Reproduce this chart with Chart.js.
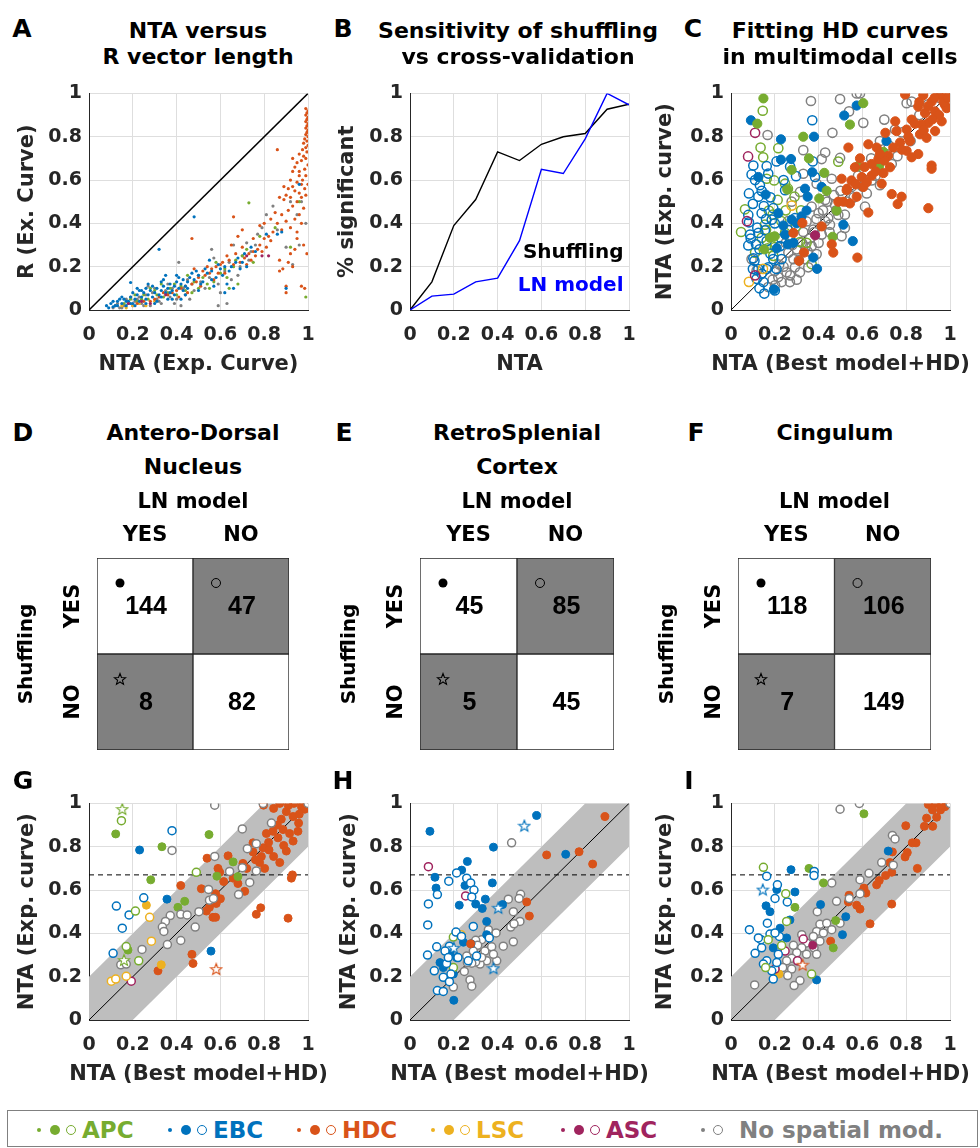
<!DOCTYPE html>
<html><head><meta charset="utf-8"><title>NTA figure</title>
<script src="https://cdn.jsdelivr.net/npm/chart.js@4.4.1/dist/chart.umd.min.js"></script>
<style>
html,body{margin:0;padding:0;background:#fff;}
body{width:980px;height:1148px;position:relative;overflow:hidden;font-family:"DejaVu Sans",sans-serif;}
canvas{position:absolute;}
.txt{position:absolute;transform:translate(-50%,-50%);white-space:nowrap;font-weight:bold;line-height:1;color:#000;}
.lab{font-size:25px;}
.ttl{font-size:22px;}
#legend{position:absolute;left:7px;top:1110px;width:971px;height:37px;border:1px solid #808080;box-sizing:border-box;}
.mk{position:absolute;border-radius:50%;transform:translate(-50%,-50%);box-sizing:border-box;}
.lt{position:absolute;transform:translateY(-50%);font-weight:bold;font-size:23px;line-height:1;white-space:nowrap;}
</style></head><body>
<canvas id="cA" width="340" height="310" style="left:0;top:75px"></canvas>
<canvas id="cB" width="340" height="310" style="left:325px;top:75px"></canvas>
<canvas id="cC" width="335" height="310" style="left:645px;top:75px"></canvas>
<canvas id="cD" width="330" height="290" style="left:0;top:480px"></canvas>
<canvas id="cE" width="330" height="290" style="left:330px;top:480px"></canvas>
<canvas id="cF" width="330" height="290" style="left:650px;top:480px"></canvas>
<canvas id="cG" width="340" height="310" style="left:0;top:785px"></canvas>
<canvas id="cH" width="340" height="310" style="left:325px;top:785px"></canvas>
<canvas id="cI" width="335" height="310" style="left:645px;top:785px"></canvas>

<div class="txt lab" style="left:22px;top:28px">A</div>
<div class="txt lab" style="left:343px;top:28px">B</div>
<div class="txt lab" style="left:693px;top:28px">C</div>
<div class="txt lab" style="left:23px;top:432px">D</div>
<div class="txt lab" style="left:344px;top:432px">E</div>
<div class="txt lab" style="left:696px;top:432px">F</div>
<div class="txt lab" style="left:23px;top:780px">G</div>
<div class="txt lab" style="left:343px;top:780px">H</div>
<div class="txt lab" style="left:689px;top:780px">I</div>
<div class="txt ttl" style="left:198px;top:31px">NTA versus</div>
<div class="txt ttl" style="left:198px;top:57px">R vector length</div>
<div class="txt ttl" style="left:518px;top:31px">Sensitivity of shuffling</div>
<div class="txt ttl" style="left:518px;top:57px">vs cross-validation</div>
<div class="txt ttl" style="left:840px;top:31px">Fitting HD curves</div>
<div class="txt ttl" style="left:840px;top:57px">in multimodal cells</div>
<div class="txt ttl" style="left:193px;top:433px">Antero-Dorsal</div>
<div class="txt ttl" style="left:193px;top:467px">Nucleus</div>
<div class="txt ttl" style="left:517px;top:433px">RetroSplenial</div>
<div class="txt ttl" style="left:517px;top:467px">Cortex</div>
<div class="txt ttl" style="left:835px;top:433px">Cingulum</div>
<div id="legend"></div>

<script>
// ---------------- DATA ----------------
const catNames  = ['APC','EBC','HDC','LSC','ASC','No spatial mod.'];
const catColors = ['#77AC30','#0072BD','#D95319','#EDB120','#A0245E','#808080'];

// Panel B
const ntaBins    = [0,0.1,0.2,0.3,0.4,0.5,0.6,0.7,0.8,0.9,1.0];
const pShuffling = [0,0.13,0.39,0.51,0.73,0.69,0.765,0.80,0.815,0.927,0.95];
const pLNmodel   = [0,0.064,0.073,0.13,0.147,0.32,0.65,0.63,0.79,1.0,0.947];
const bSeriesNames = ['Shuffling','LN model'];

// Panels D-F (rows: Shuffling YES/NO ; cols: LN model YES/NO)
const lnLabels   = ['YES','NO'];
const shufLabels = ['YES','NO'];
const countsD = [[144,47],[8,82]];
const countsE = [[45,85],[5,45]];
const countsF = [[118,106],[7,149]];

// Reference band / threshold for G-I
const bandHalfWidth = 0.2;
const ntaThreshold  = 0.67;

// Panel A (NTA exp curve, R vector length)
const A_hdc = [[0.99,0.93],[1.0,0.92],[0.995,0.91],[0.99,0.9],[1.0,0.89],[0.995,0.88],[0.99,0.87],[1.0,0.86],[0.995,0.85],[0.99,0.84],[1.0,0.83],[0.995,0.82],[0.99,0.81],[1.0,0.8],[0.985,0.79],[0.995,0.78],[0.98,0.77],[1.0,0.76],[0.99,0.75],[0.975,0.74],[0.995,0.73],[0.98,0.71],[0.99,0.7],[0.97,0.69],[1.0,0.67],[0.985,0.65],[0.96,0.64],[0.99,0.62],[0.975,0.6],[1.0,0.58],[0.985,0.56],[0.99,0.53],
[0.96,0.72],[0.95,0.68],[0.94,0.66],[0.93,0.64],[0.96,0.62],[0.92,0.6],[0.95,0.59],[0.97,0.58],[0.93,0.57],[0.91,0.56],[0.94,0.55],[0.96,0.54],[0.9,0.53],[0.92,0.52],[0.97,0.52],[0.89,0.51],[0.95,0.5],[0.93,0.48],[0.98,0.47],[0.91,0.46],[0.96,0.44],[0.88,0.44],[0.94,0.42],[0.9,0.41],[0.97,0.4],[0.86,0.4],[0.92,0.38],[0.88,0.37],[0.95,0.36],[0.86,0.74],[0.89,0.57],[0.93,0.7],[0.87,0.52],[0.85,0.45],
[0.84,0.36],[0.82,0.34],[0.8,0.33],[0.83,0.32],[0.78,0.3],[0.81,0.29],[0.77,0.28],[0.75,0.27],[0.79,0.27],[0.73,0.26],[0.76,0.25],[0.71,0.24],[0.74,0.23],[0.69,0.22],[0.72,0.21],[0.66,0.43],[0.7,0.37],[0.68,0.34],[0.65,0.3],[0.67,0.26],[0.63,0.25],[0.64,0.23],[0.61,0.22],[0.6,0.21],[0.58,0.2],[0.56,0.19],[0.55,0.17],[0.53,0.16],[0.52,0.18],[0.5,0.15],[0.49,0.13],[0.47,0.12],[0.47,0.33],[0.44,0.11],[0.42,0.1],[0.4,0.09],[0.38,0.08],[0.36,0.07],[0.34,0.08],[0.32,0.06],[0.3,0.05],[0.28,0.04],[0.25,0.04],[0.22,0.03],[0.48,0.19],[0.54,0.2],[0.57,0.14],[0.62,0.17],
[0.87,0.18],[0.91,0.22],[0.93,0.2],[0.92,0.26],[0.9,0.11],[0.9,0.08],[0.97,0.11],[0.985,0.1],[0.98,0.3],[0.995,0.26],[0.95,0.33],[0.94,0.28],[0.87,0.23],[0.885,0.19],
[0.41,0.06],[0.45,0.08],[0.51,0.11],[0.59,0.17],[0.66,0.21],[0.7,0.29],[0.75,0.33],[0.8,0.4],[0.83,0.42],[0.78,0.39]];
const A_ebc = [[0.08,0.02],[0.1,0.03],[0.11,0.015],[0.12,0.02],[0.13,0.04],[0.14,0.05],[0.15,0.03],[0.16,0.05],[0.17,0.02],[0.18,0.04],[0.19,0.06],[0.19,0.127],[0.2,0.03],[0.2,0.08],[0.21,0.05],[0.22,0.07],[0.23,0.04],[0.24,0.06],[0.25,0.08],[0.26,0.05],[0.27,0.07],[0.28,0.09],[0.29,0.06],[0.3,0.08],[0.31,0.1],[0.32,0.07],[0.32,0.28],[0.33,0.09],[0.34,0.11],[0.35,0.08],[0.35,0.16],[0.36,0.1],[0.37,0.12],[0.38,0.09],[0.39,0.11],[0.4,0.13],[0.41,0.1],[0.42,0.12],[0.42,0.05],[0.43,0.14],[0.44,0.11],[0.45,0.13],[0.46,0.15],[0.48,0.14],[0.48,0.43],[0.5,0.16],[0.52,0.13],[0.54,0.17],[0.55,0.23],[0.56,0.18],[0.58,0.15],[0.6,0.19],[0.62,0.2],[0.62,0.08],[0.64,0.18],[0.65,0.2],[0.66,0.1],[0.68,0.24],[0.7,0.22],[0.72,0.2],[0.74,0.29],[0.76,0.27],[0.81,0.35],[0.86,0.35],[0.88,0.36],[0.9,0.1],[0.96,0.58],[0.3,0.03],[0.26,0.1],[0.38,0.05],[0.44,0.07],[0.5,0.09],[0.57,0.11],[0.33,0.13],[0.23,0.09],
[0.09,0.01],[0.11,0.04],[0.13,0.02],[0.15,0.06],[0.17,0.04],[0.19,0.03],[0.21,0.02],[0.22,0.1],[0.24,0.09],[0.26,0.03],[0.27,0.12],[0.29,0.11],[0.31,0.04],[0.33,0.06],[0.34,0.14],[0.36,0.05],[0.37,0.08],[0.39,0.07],[0.4,0.16],[0.41,0.15],[0.43,0.09],[0.45,0.1],[0.47,0.17],[0.49,0.18],[0.51,0.12],[0.53,0.19],[0.56,0.14],[0.59,0.21],[0.61,0.16],[0.63,0.12],[0.67,0.22],[0.69,0.19],[0.71,0.26]];
const A_apc = [[0.19,0.05],[0.22,0.04],[0.25,0.07],[0.27,0.05],[0.28,0.1],[0.3,0.09],[0.33,0.12],[0.34,0.06],[0.37,0.1],[0.4,0.07],[0.44,0.09],[0.45,0.16],[0.47,0.08],[0.5,0.1],[0.54,0.12],[0.57,0.13],[0.58,0.22],[0.6,0.17],[0.63,0.15],[0.64,0.1],[0.66,0.2],[0.68,0.12],[0.7,0.25],[0.73,0.495],[0.75,0.22],[0.85,0.38],[0.92,0.29],[0.96,0.5],[0.99,0.06],
[0.16,0.03],[0.21,0.07],[0.24,0.05],[0.31,0.07],[0.36,0.08],[0.39,0.12],[0.42,0.11],[0.48,0.13],[0.52,0.15],[0.55,0.1],[0.62,0.19],[0.67,0.23],[0.72,0.28],[0.78,0.34]];
const A_nos = [[0.11,0.01],[0.12,0.02],[0.14,0.01],[0.16,0.02],[0.18,0.03],[0.19,0.06],[0.2,0.02],[0.22,0.05],[0.24,0.03],[0.26,0.07],[0.27,0.11],[0.28,0.02],[0.29,0.08],[0.31,0.05],[0.33,0.03],[0.35,0.09],[0.37,0.06],[0.38,0.1],[0.4,0.05],[0.41,0.22],[0.42,0.02],[0.44,0.07],[0.45,0.14],[0.47,0.12],[0.5,0.16],[0.53,0.1],[0.56,0.28],[0.57,0.24],[0.59,0.12],[0.59,0.02],[0.62,0.18],[0.63,0.03],[0.64,0.22],[0.66,0.3],[0.68,0.16],[0.7,0.25],[0.72,0.31],[0.74,0.27],[0.77,0.35],[0.79,0.38],[0.81,0.44],[0.84,0.48],[0.86,0.37],[0.9,0.29],[0.92,0.5],[0.93,0.21],[0.95,0.44],[0.96,0.3],[0.97,0.5],[0.99,0.4],
[0.13,0.03],[0.15,0.01],[0.17,0.05],[0.21,0.04],[0.23,0.06],[0.25,0.02],[0.3,0.1],[0.32,0.04],[0.36,0.12],[0.39,0.03],[0.43,0.1],[0.46,0.05],[0.48,0.09],[0.51,0.13],[0.55,0.15],[0.6,0.08],[0.65,0.14],[0.69,0.2],[0.73,0.23],[0.76,0.3]];
const A_lsc = [[0.15,0.02],[0.17,0.01],[0.2,0.02],[0.23,0.03],[0.26,0.02],[0.3,0.04]];
const A_asc = [[0.18,0.03],[0.24,0.04],[0.28,0.03],[0.35,0.07],[0.72,0.25],[0.79,0.25],[0.82,0.25]];

// Panel C (NTA best model+HD, NTA exp curve); f = filled, o = open
const C_nos_o = [[0.365,0.965],[0.498,0.974],[0.574,1.0],[0.589,1.0],[0.539,0.917],[0.604,0.864],[0.167,0.808],[0.463,0.818],[0.7,0.879],[0.749,0.833],[0.33,0.738],[0.43,0.727],[0.498,0.702],[0.68,0.78],[0.414,0.697],[0.33,0.629],[0.46,0.606],[0.391,0.583],[0.315,0.545],[0.43,0.508],[0.475,0.485],[0.368,0.477],[0.4,0.447],[0.444,0.424],[0.345,0.409],[0.376,0.371],[0.414,0.348],[0.323,0.311],[0.368,0.295],[0.391,0.258],[0.338,0.235],[0.292,0.197],[0.254,0.174],[0.231,0.129],[0.269,0.129],[0.201,0.114],[0.17,0.106],[0.117,0.182],[0.094,0.235],[0.315,0.174],[0.353,0.197],[0.68,0.576],[0.802,0.955],[0.825,0.962],[0.52,0.379],[0.505,0.341],[0.452,0.394],[0.49,0.439],[0.55,0.568],[0.612,0.477],[0.62,0.538],[0.734,0.674],[0.642,0.598],[0.277,0.5],[0.262,0.265],[0.285,0.235],[0.216,0.152],[0.3,0.28],[0.36,0.33],[0.42,0.46],[0.47,0.53],[0.39,0.42],[0.33,0.36],[0.28,0.3],[0.24,0.2],[0.44,0.5],[0.5,0.55],[0.53,0.5],[0.58,0.62],[0.64,0.7],[0.72,0.76],[0.78,0.82],[0.86,0.9],[0.9,0.95],[0.95,0.98],[0.26,0.41],[0.35,0.27],[0.31,0.23],[0.19,0.14],[0.4,0.31],[0.45,0.36],
[0.22,0.21],[0.27,0.16],[0.3,0.14],[0.34,0.29],[0.38,0.36],[0.43,0.41],[0.48,0.46],[0.52,0.44],[0.56,0.52],[0.6,0.57],[0.66,0.62],[0.69,0.66],[0.76,0.71],[0.82,0.78],[0.25,0.31],[0.2,0.18]];
const C_apc_f = [[0.148,0.977],[0.12,0.86],[0.604,0.955],[0.543,0.856],[0.33,0.8],[0.356,0.7],[0.277,0.647],[0.426,0.633],[0.437,0.55],[0.403,0.515],[0.482,0.459],[0.464,0.338],[0.696,0.73],[0.58,0.664],[0.676,0.664],[0.178,0.333],[0.193,0.338],[0.2,0.34],[0.152,0.28],[0.257,0.556]];
const C_apc_o = [[0.145,0.92],[0.135,0.75],[0.216,0.747],[0.147,0.705],[0.49,0.685],[0.163,0.606],[0.197,0.598],[0.247,0.583],[0.29,0.523],[0.064,0.465],[0.046,0.36],[0.173,0.459],[0.213,0.508],[0.25,0.46],[0.297,0.386],[0.155,0.394],[0.14,0.333],[0.167,0.285],[0.193,0.25],[0.315,0.314],[0.345,0.31],[0.368,0.212],[0.247,0.356],[0.11,0.265],
[0.19,0.44],[0.23,0.41],[0.27,0.34],[0.16,0.37],[0.2,0.29],[0.26,0.56],[0.32,0.46]];
const C_ebc_f = [[0.091,0.876],[0.228,0.788],[0.379,0.8],[0.517,0.898],[0.574,0.944],[0.71,0.78],[0.274,0.697],[0.228,0.694],[0.371,0.636],[0.158,0.533],[0.338,0.56],[0.35,0.523],[0.513,0.394],[0.556,0.318],[0.393,0.19],[0.196,0.095],[0.376,0.242],[0.345,0.459],[0.277,0.417],[0.247,0.348],[0.216,0.447],[0.26,0.303],[0.3,0.4],[0.322,0.432],[0.239,0.39],[0.209,0.285],[0.125,0.614],[0.414,0.568],[0.285,0.31]];
const C_ebc_o = [[0.371,0.876],[0.102,0.667],[0.094,0.626],[0.163,0.664],[0.208,0.686],[0.27,0.662],[0.082,0.538],[0.132,0.576],[0.125,0.523],[0.079,0.439],[0.082,0.405],[0.14,0.447],[0.193,0.47],[0.155,0.368],[0.114,0.303],[0.079,0.298],[0.125,0.356],[0.163,0.318],[0.102,0.239],[0.125,0.189],[0.163,0.189],[0.208,0.189],[0.107,0.227],[0.148,0.129],[0.152,0.076],[0.14,0.167],[0.193,0.235],[0.231,0.235],[0.297,0.618],[0.373,0.686],[0.384,0.614],[0.247,0.553],[0.292,0.424],[0.224,0.295],[0.17,0.197],[0.117,0.144],[0.087,0.348],[0.186,0.417],
[0.11,0.6],[0.14,0.55],[0.18,0.52],[0.1,0.49],[0.16,0.42],[0.2,0.4],[0.13,0.28],[0.18,0.26],[0.1,0.19],[0.13,0.1],[0.2,0.09],[0.12,0.38],[0.23,0.33],[0.26,0.37],[0.17,0.63],[0.24,0.6],[0.15,0.48],[0.09,0.33]];
const C_hdc_f = [[0.795,0.995],[0.878,0.992],[0.947,1.0],[0.985,0.992],[0.916,0.962],[0.855,0.939],[0.886,0.909],[0.932,0.917],[0.977,0.947],[0.825,0.879],[0.901,0.864],[0.802,0.833],[0.756,0.826],[0.863,0.811],[0.932,0.826],[0.893,0.795],[0.817,0.78],[0.772,0.773],[0.741,0.75],[0.802,0.735],[0.855,0.72],[0.718,0.712],[0.673,0.697],[0.627,0.765],[0.536,0.75],[0.589,0.7],[0.642,0.674],[0.696,0.632],[0.726,0.659],[0.916,0.667],[0.916,0.652],[0.597,0.614],[0.55,0.598],[0.505,0.606],[0.604,0.568],[0.528,0.553],[0.49,0.5],[0.574,0.523],[0.543,0.492],[0.627,0.45],[0.734,0.535],[0.779,0.523],[0.761,0.489],[0.901,0.47],[0.326,0.402],[0.285,0.356],[0.311,0.227],[0.333,0.265],[0.414,0.386],[0.46,0.303],[0.467,0.265],[0.577,0.242],[0.513,0.5],[0.566,0.659],[0.665,0.75],[0.705,0.818],[0.75,0.871],[0.962,0.871],[0.985,0.932],[0.87,0.856],[0.642,0.62],[0.825,0.705],[0.688,0.583],[0.96,0.99],[0.93,0.98],[0.9,0.94],[0.97,0.96],[0.84,0.86],[0.88,0.83],[0.95,0.9],[0.99,0.98],[0.92,0.88],[0.86,0.96],[0.81,0.8],[0.78,0.74],[0.7,0.69],[0.66,0.64],[0.61,0.66],[0.57,0.58],[0.53,0.56],[0.62,0.59],[0.68,0.72]];
const C_lsc_o = [[0.082,0.13],[0.277,0.482],[0.146,0.19]];
const C_asc_f = [[0.384,0.345]];
const C_asc_o = [[0.11,0.818],[0.078,0.709],[0.073,0.41],[0.11,0.16]];

// Panel G (Antero-Dorsal); s = star
const G_nos_o = [[0.574,0.992],[0.379,0.783],[0.7,0.882],[0.795,1.0],[1.0,1.0],[0.833,0.909],[0.574,0.755],[0.764,0.814],[0.723,0.791],[0.642,0.686],[0.7,0.703],[0.764,0.688],[0.734,0.635],[0.683,0.579],[0.546,0.603],[0.55,0.553],[0.568,0.561],[0.502,0.5],[0.485,0.429],[0.419,0.488],[0.448,0.485],[0.371,0.482],[0.349,0.455],[0.335,0.429],[0.342,0.409],[0.358,0.348],[0.419,0.367],[0.242,0.326],[0.145,0.255],[0.17,0.258]];
const G_apc_f = [[0.122,0.859],[0.333,0.8],[0.548,0.856],[0.282,0.647],[0.658,0.73],[0.584,0.664],[0.68,0.662],[0.437,0.548],[0.406,0.52],[0.178,0.323]];
const G_apc_o = [[0.148,0.92],[0.49,0.682],[0.212,0.503],[0.17,0.339],[0.227,0.273]];
const G_apc_s = [[0.152,0.974],[0.16,0.277]];
const G_ebc_f = [[0.231,0.785],[0.356,0.558],[0.557,0.318]];
const G_ebc_o = [[0.379,0.874],[0.125,0.526],[0.25,0.564],[0.183,0.485],[0.152,0.424],[0.11,0.308]];
const G_lsc_f = [[0.262,0.53],[0.33,0.255]];
const G_lsc_o = [[0.277,0.474],[0.285,0.364],[0.102,0.179],[0.122,0.189],[0.17,0.202]];
const G_asc_o = [[0.193,0.179]];
const G_hdc_f = [[0.797,0.992],[0.871,1.0],[0.935,1.0],[0.97,0.985],[0.901,0.962],[0.843,0.977],[0.932,0.939],[0.985,0.973],[0.878,0.927],[0.957,0.909],[0.84,0.871],[0.886,0.879],[0.916,0.861],[0.954,0.871],[0.81,0.861],[0.863,0.841],[0.932,0.826],[0.749,0.818],[0.889,0.806],[0.795,0.795],[0.749,0.776],[0.822,0.785],[0.787,0.755],[0.843,0.755],[0.901,0.78],[0.779,0.727],[0.871,0.727],[0.802,0.7],[0.703,0.723],[0.635,0.758],[0.539,0.747],[0.589,0.7],[0.597,0.682],[0.658,0.655],[0.711,0.594],[0.615,0.639],[0.578,0.583],[0.513,0.606],[0.581,0.538],[0.536,0.503],[0.566,0.474],[0.578,0.474],[0.419,0.621],[0.924,0.655],[0.929,0.67],[0.784,0.518],[0.764,0.488],[0.909,0.47],[0.47,0.303],[0.475,0.261],[0.315,0.227],[0.96,0.95],[0.91,0.99],[0.86,0.9],[0.82,0.82],[0.76,0.74],[0.72,0.7],[0.68,0.63],[0.6,0.56],[0.55,0.52]];
const G_hdc_s = [[0.581,0.235]];

// Panel H (RetroSplenial)
const H_nos_o = [[0.464,0.818],[0.505,0.58],[0.498,0.561],[0.449,0.558],[0.472,0.5],[0.502,0.455],[0.46,0.429],[0.475,0.444],[0.472,0.361],[0.393,0.402],[0.358,0.417],[0.327,0.371],[0.3,0.368],[0.309,0.345],[0.342,0.318],[0.373,0.338],[0.396,0.273],[0.381,0.303],[0.35,0.273],[0.32,0.258],[0.3,0.268],[0.282,0.262],[0.262,0.265],[0.248,0.224],[0.274,0.185],[0.282,0.156],[0.198,0.152],[0.259,0.295],[0.289,0.318],[0.426,0.341],[0.327,0.288]];
const H_ebc_f = [[0.091,0.871],[0.578,0.944],[0.381,0.798],[0.711,0.765],[0.114,0.659],[0.119,0.609],[0.262,0.732],[0.236,0.692],[0.376,0.633],[0.251,0.621],[0.225,0.53],[0.3,0.535],[0.344,0.558],[0.33,0.515],[0.423,0.533],[0.35,0.455],[0.35,0.394],[0.244,0.359],[0.279,0.352],[0.152,0.242],[0.198,0.212],[0.2,0.091],[0.183,0.311],[0.137,0.265],[0.213,0.288]];
const H_ebc_o = [[0.084,0.536],[0.081,0.439],[0.08,0.3],[0.125,0.579],[0.177,0.641],[0.213,0.679],[0.259,0.655],[0.277,0.633],[0.292,0.6],[0.282,0.568],[0.289,0.432],[0.21,0.406],[0.235,0.386],[0.18,0.341],[0.122,0.338],[0.16,0.318],[0.167,0.261],[0.187,0.212],[0.111,0.227],[0.152,0.197],[0.18,0.177],[0.125,0.136],[0.152,0.132],[0.304,0.295],[0.362,0.379],[0.219,0.288],[0.175,0.288],[0.266,0.273]];
const H_ebc_s = [[0.522,0.897],[0.403,0.518],[0.381,0.239],[0.2,0.333]];
const H_asc_o = [[0.084,0.708],[0.254,0.573]];
const H_apc_o = [[0.198,0.383],[0.198,0.242]];
const H_lsc_o = [[0.233,0.394]];
const H_hdc_f = [[0.89,0.939],[0.624,0.762],[0.772,0.777],[0.834,0.72],[0.533,0.545],[0.545,0.48],[0.277,0.352]];

// Panel I (Cingulum)
const I_nos_o = [[0.498,0.973],[0.586,1.0],[1.0,1.0],[0.737,0.852],[0.749,0.836],[0.688,0.727],[0.741,0.715],[0.63,0.677],[0.589,0.648],[0.589,0.583],[0.46,0.633],[0.54,0.561],[0.482,0.548],[0.498,0.447],[0.394,0.5],[0.406,0.442],[0.437,0.447],[0.46,0.417],[0.391,0.409],[0.422,0.402],[0.376,0.386],[0.406,0.364],[0.379,0.333],[0.345,0.356],[0.323,0.394],[0.323,0.333],[0.3,0.311],[0.285,0.345],[0.277,0.285],[0.303,0.273],[0.254,0.273],[0.277,0.235],[0.259,0.205],[0.315,0.182],[0.288,0.159],[0.108,0.162],[0.236,0.242],[0.345,0.303],[0.391,0.303]];
const I_hdc_f = [[0.901,0.995],[0.936,1.0],[0.977,0.985],[0.957,0.97],[0.893,0.932],[0.939,0.936],[0.921,0.894],[0.883,0.894],[0.798,0.897],[0.845,0.818],[0.828,0.818],[0.805,0.773],[0.795,0.753],[0.737,0.776],[0.726,0.727],[0.734,0.682],[0.706,0.667],[0.677,0.644],[0.665,0.624],[0.607,0.609],[0.597,0.591],[0.616,0.586],[0.539,0.576],[0.536,0.545],[0.574,0.53],[0.589,0.512],[0.851,0.7],[0.734,0.535],[0.635,0.444],[0.455,0.364],[0.96,0.99],[0.92,0.97]];
const I_hdc_s = [[0.327,0.255]];
const I_apc_f = [[0.607,0.952],[0.356,0.7],[0.422,0.633],[0.292,0.52],[0.478,0.459],[0.467,0.333]];
const I_apc_o = [[0.148,0.705],[0.25,0.583],[0.254,0.455],[0.231,0.344],[0.158,0.242],[0.368,0.212],[0.17,0.371]];
const I_ebc_f = [[0.274,0.694],[0.209,0.602],[0.16,0.527],[0.292,0.591],[0.409,0.533],[0.718,0.78],[0.524,0.477],[0.509,0.394],[0.391,0.185],[0.269,0.462],[0.224,0.424],[0.254,0.379],[0.193,0.333],[0.178,0.5]];
const I_ebc_o = [[0.163,0.664],[0.38,0.686],[0.379,0.667],[0.212,0.624],[0.201,0.561],[0.257,0.545],[0.084,0.417],[0.166,0.447],[0.137,0.371],[0.11,0.308],[0.14,0.333],[0.178,0.397],[0.221,0.386],[0.163,0.273],[0.209,0.265],[0.216,0.303],[0.186,0.227],[0.193,0.189],[0.148,0.258],[0.125,0.379],[0.201,0.402]];
const I_ebc_s = [[0.145,0.602]];
const I_asc_o = [[0.201,0.235],[0.304,0.273],[0.33,0.374],[0.247,0.318]];
const I_asc_f = [[0.373,0.345]];
const I_lsc_f = [[0.219,0.212]];

// ---------------- RENDERING ----------------
Chart.defaults.font.family = '"DejaVu Sans", sans-serif';
Chart.defaults.font.weight = 'bold';
const TXT = '#262626', GRID = '#DEDEDE', AX = '#262626';
const fmt = v => String(Number(Number(v).toFixed(1)));
const P = a => a.map(([x,y]) => ({x, y}));
const [APC, EBC, HDC, LSC, ASC, NOS] = [0,1,2,3,4,5];

function starImg(color, size, fillWhite){
  const c = document.createElement('canvas'); c.width = c.height = size;
  const g = c.getContext('2d'); const R = size/2 - 1, r = R*0.42;
  g.beginPath();
  for (let i = 0; i < 10; i++){ const a = -Math.PI/2 + i*Math.PI/5; const rr = i%2 ? r : R;
    g.lineTo(size/2 + rr*Math.cos(a), size/2 + 0.5 + rr*Math.sin(a)); }
  g.closePath();
  if (fillWhite){ g.fillStyle = '#fff'; g.fill(); }
  g.strokeStyle = color; g.lineWidth = 1.1; g.stroke();
  return c;
}

function ds(data, cat, kind, r, order, hollow){
  const col = catColors[cat];
  const d = {data: P(data), order, pointRadius: r, pointHoverRadius: r, showLine: false};
  if (kind === 'f'){ d.pointBackgroundColor = col; d.pointBorderColor = col; d.pointBorderWidth = 1; }
  else if (kind === 'o'){ d.pointBackgroundColor = hollow ? 'rgba(0,0,0,0)' : '#fff'; d.pointBorderColor = col; d.pointBorderWidth = 1.5; }
  else if (kind === 'd'){ d.pointBackgroundColor = col; d.pointBorderColor = col; d.pointBorderWidth = 0; }
  else if (kind === 's'){ d.pointStyle = starImg(col, 14, true); d.pointRadius = 5; }
  return d;
}
function lineDs(data, color, w, order, dash){
  return {data: P(data), showLine: true, borderColor: color, borderWidth: w, pointRadius: 0, order, borderDash: dash || [], fill: false, tension: 0};
}

// x-axis title drawn centred under the x scale (without width compression)
const xTitlePlugin = {
  id: 'xTitle',
  afterDraw(chart, args, opts){
    const s = chart.scales.x, ctx = chart.ctx;
    ctx.save();
    ctx.font = 'bold 21px "DejaVu Sans", sans-serif';
    ctx.fillStyle = TXT; ctx.textAlign = 'center'; ctx.textBaseline = 'middle';
    ctx.fillText(opts.text, (s.left + s.right)/2, s.bottom - 7.4 - 12.6);
    ctx.restore();
  }
};

function scalesFor(yTitle, yW, yTP){
  const tickFont = {size: 19, weight: 'bold'};
  const titleFont = {size: 21, weight: 'bold'};
  const common = {type: 'linear', min: 0, max: 1,
    grid: {color: GRID, lineWidth: 1, drawTicks: false},
    border: {display: true, color: AX, width: 1}};
  return {
    x: Object.assign({}, common, {
      afterFit: s => { s.height = 75; },
      ticks: {stepSize: 0.2, padding: 13.6, color: TXT, font: tickFont, callback: fmt, maxRotation: 0, minRotation: 0, autoSkip: false}
    }),
    y: Object.assign({}, common, {
      afterFit: s => { s.width = yW; },
      ticks: {stepSize: 0.2, padding: 7, color: TXT, font: tickFont, callback: fmt, autoSkip: false},
      title: {display: true, text: yTitle, color: TXT, font: titleFont, padding: {top: yTP, bottom: 0}}
    })
  };
}

function scatterPanel(id, datasets, o){
  return new Chart(document.getElementById(id), {
    type: 'scatter',
    data: {datasets},
    options: {
      responsive: false, animation: false, events: [],
      layout: {padding: {left: 0, top: 15, right: o.padR, bottom: 0}},
      plugins: {legend: {display: false}, tooltip: {enabled: false}, xTitle: {text: o.xTitle}},
      scales: scalesFor(o.yTitle, o.yW, o.yTP)
    },
    plugins: [xTitlePlugin].concat(o.plugins || [])
  });
}

const diag = [[0,0],[1,1]];
const w = bandHalfWidth;
const bandPoly = [[0,0],[0,w],[1-w,1],[1,1],[1,1-w],[w,0],[0,0]];
const thrLine = [[0,ntaThreshold],[1,ntaThreshold]];
const bandDs = () => ({data: P(bandPoly), showLine: true, borderWidth: 0, borderColor: 'rgba(0,0,0,0)', pointRadius: 0, fill: 'shape', backgroundColor: '#BEBEBE', order: 100, tension: 0});

// geometry: left-column canvas x0=0 (plot 89-308), middle x0=325 (plot 410-629), right x0=645 (plot 731-950)
const colGeom = [
  {yW: 89, yTP: 15.4, padR: 32},
  {yW: 85, yTP: 12.4, padR: 36},
  {yW: 86, yTP: 8.4,  padR: 30}
];

// ---- Panel A
scatterPanel('cA', [
  lineDs(diag, '#000', 1.5, 99),
  ds(A_nos, NOS, 'd', 1.6, 60),
  ds(A_apc, APC, 'd', 1.6, 55),
  ds(A_lsc, LSC, 'd', 1.6, 54),
  ds(A_hdc, HDC, 'd', 1.6, 52),
  ds(A_ebc, EBC, 'd', 1.6, 50),
  ds(A_asc, ASC, 'd', 1.6, 48)
], Object.assign({xTitle: 'NTA (Exp. Curve)', yTitle: 'R (Ex. Curve)'}, colGeom[0]));

// ---- Panel B
const bLegend = {
  id: 'bLegend',
  afterDatasetsDraw(chart){
    const {ctx, scales: {x, y}} = chart;
    ctx.save();
    ctx.font = 'bold 20px "DejaVu Sans", sans-serif';
    ctx.textAlign = 'right'; ctx.textBaseline = 'middle';
    const pos = [0.265, 0.114];
    chart.data.datasets.forEach((d, i) => {
      ctx.fillStyle = d.borderColor;
      ctx.fillText(d.label, x.getPixelForValue(0.975), y.getPixelForValue(pos[i]));
    });
    ctx.restore();
  }
};
scatterPanel('cB', [
  Object.assign(lineDs(ntaBins.map((v,i) => [v, pShuffling[i]]), '#000000', 1.4, 2), {label: bSeriesNames[0]}),
  Object.assign(lineDs(ntaBins.map((v,i) => [v, pLNmodel[i]]), '#0000FF', 1.4, 1), {label: bSeriesNames[1]})
], Object.assign({xTitle: 'NTA', yTitle: '% significant', plugins: [bLegend]}, colGeom[1], {yTP: 10.4}));

// ---- Panel C
scatterPanel('cC', [
  lineDs(diag, '#000', 1, 99),
  ds(C_nos_o, NOS, 'o', 4.6, 60, true),
  ds(C_apc_o, APC, 'o', 4.6, 58, true),
  ds(C_ebc_o, EBC, 'o', 4.6, 57, true),
  ds(C_lsc_o, LSC, 'o', 4.6, 56, true),
  ds(C_asc_o, ASC, 'o', 4.6, 55, true),
  ds(C_ebc_f, EBC, 'f', 4.6, 54),
  ds(C_apc_f, APC, 'f', 4.6, 53),
  ds(C_hdc_f, HDC, 'f', 4.6, 52),
  ds(C_asc_f, ASC, 'f', 4.6, 51)
], Object.assign({xTitle: 'NTA (Best model+HD)', yTitle: 'NTA (Exp. curve)'}, colGeom[2]));

// ---- Panels G, H, I
function bandSets(){ return [bandDs(), lineDs(diag, '#000', 1, 95), lineDs(thrLine, '#000', 1, 94, [5,4])]; }
const R = 4;
scatterPanel('cG', bandSets().concat([
  ds(G_hdc_f, HDC, 'f', R, 60),
  ds(G_apc_f, APC, 'f', R, 55),
  ds(G_ebc_f, EBC, 'f', R, 55),
  ds(G_lsc_f, LSC, 'f', R, 55),
  ds(G_apc_o, APC, 'o', R, 50),
  ds(G_ebc_o, EBC, 'o', R, 50),
  ds(G_lsc_o, LSC, 'o', R, 50),
  ds(G_asc_o, ASC, 'o', R, 50),
  ds(G_nos_o, NOS, 'o', R, 45),
  ds(G_apc_s, APC, 's', R, 40),
  ds(G_hdc_s, HDC, 's', R, 40)
]), Object.assign({xTitle: 'NTA (Best model+HD)', yTitle: 'NTA (Exp. curve)'}, colGeom[0]));

scatterPanel('cH', bandSets().concat([
  ds(H_nos_o, NOS, 'o', R, 60),
  ds(H_hdc_f, HDC, 'f', R, 55),
  ds(H_ebc_f, EBC, 'f', R, 55),
  ds(H_ebc_o, EBC, 'o', R, 50),
  ds(H_apc_o, APC, 'o', R, 50),
  ds(H_lsc_o, LSC, 'o', R, 50),
  ds(H_asc_o, ASC, 'o', R, 50),
  ds(H_ebc_s, EBC, 's', R, 40)
]), Object.assign({xTitle: 'NTA (Best model+HD)', yTitle: 'NTA (Exp. curve)'}, colGeom[1]));

scatterPanel('cI', bandSets().concat([
  ds(I_hdc_f, HDC, 'f', R, 60),
  ds(I_nos_o, NOS, 'o', R, 58),
  ds(I_apc_f, APC, 'f', R, 55),
  ds(I_ebc_f, EBC, 'f', R, 55),
  ds(I_lsc_f, LSC, 'f', R, 55),
  ds(I_asc_f, ASC, 'f', R, 55),
  ds(I_apc_o, APC, 'o', R, 50),
  ds(I_ebc_o, EBC, 'o', R, 50),
  ds(I_asc_o, ASC, 'o', R, 50),
  ds(I_ebc_s, EBC, 's', R, 40),
  ds(I_hdc_s, HDC, 's', R, 40)
]), Object.assign({xTitle: 'NTA (Best model+HD)', yTitle: 'NTA (Exp. curve)'}, colGeom[2]));

// ---- Panels D, E, F (2x2 tables)
const cellSymbols = [['dot','circle'],['star',null]];
const tableStar = starImg('#000', 14, false);
const tablePlugin = {
  id: 'tbl',
  afterDatasetsDraw(chart){
    const {ctx, chartArea: ca} = chart;
    ctx.save();
    chart.data.datasets.forEach((d, r) => {
      chart.getDatasetMeta(r).data.forEach((bar, c) => {
        const p = bar.getProps(['x','y','base','width'], true);
        const top = Math.min(p.y, p.base), bot = Math.max(p.y, p.base);
        const left = p.x - p.width/2;
        ctx.fillStyle = '#000';
        ctx.font = 'bold 25px "Liberation Sans", Arial, sans-serif';
        ctx.textAlign = 'center'; ctx.textBaseline = 'middle';
        ctx.fillText(String(d.counts[c]), p.x + 1, (top + bot)/2 + 1);
        const sx = left + 23, sy = top + 25, sym = cellSymbols[r][c];
        if (sym === 'dot'){ ctx.beginPath(); ctx.arc(sx, sy, 4.5, 0, 2*Math.PI); ctx.fill(); }
        else if (sym === 'circle'){ ctx.beginPath(); ctx.arc(sx, sy, 4.5, 0, 2*Math.PI); ctx.strokeStyle = '#000'; ctx.lineWidth = 1; ctx.stroke(); }
        else if (sym === 'star'){ ctx.drawImage(tableStar, sx - 7, sy - 7); }
      });
      const m0 = chart.getDatasetMeta(r).data[0].getProps(['y','base'], true);
      ctx.save();
      ctx.translate(ca.left - 23, (m0.y + m0.base)/2);
      ctx.rotate(-Math.PI/2);
      ctx.font = 'bold 21px "DejaVu Sans", sans-serif';
      ctx.fillStyle = '#000'; ctx.textAlign = 'center'; ctx.textBaseline = 'middle';
      ctx.fillText(shufLabels[r], 0, 0);
      ctx.restore();
    });
    ctx.save();
    ctx.translate(ca.left - 70, (ca.top + ca.bottom)/2);
    ctx.rotate(-Math.PI/2);
    ctx.font = 'bold 20px "DejaVu Sans", sans-serif';
    ctx.fillStyle = '#000'; ctx.textAlign = 'center'; ctx.textBaseline = 'middle';
    ctx.fillText('Shuffling', 0, 0);
    ctx.restore();
    ctx.restore();
  }
};
function tablePanel(id, counts, padL, padR){
  return new Chart(document.getElementById(id), {
    type: 'bar',
    data: {
      labels: lnLabels,
      datasets: counts.map((row, r) => ({
        label: shufLabels[r], counts: row,
        data: row.map(() => [r, r + 1]),
        backgroundColor: row.map((_, c) => r === c ? '#FFFFFF' : '#808080'),
        borderColor: '#262626', borderWidth: 1, borderSkipped: false,
        grouped: false, categoryPercentage: 1, barPercentage: 1
      }))
    },
    options: {
      responsive: false, animation: false, events: [],
      layout: {padding: {left: padL, right: padR, top: 0, bottom: 20}},
      plugins: {legend: {display: false}, tooltip: {enabled: false}},
      scales: {
        x: {position: 'top', afterFit: s => { s.height = 78; },
            grid: {display: false, drawTicks: false}, border: {display: false},
            ticks: {color: '#000', font: {size: 21, weight: 'bold'}, padding: 9.4, maxRotation: 0},
            title: {display: true, text: 'LN model', color: '#000', font: {size: 21, weight: 'bold'}, padding: {top: 10.4, bottom: 0}}},
        y: {display: false, min: 0, max: 2, reverse: true}
      }
    },
    plugins: [tablePlugin]
  });
}
tablePanel('cD', countsD, 97, 41);
tablePanel('cE', countsE, 90, 46);
tablePanel('cF', countsF, 88, 49);

// ---- Bottom legend
const legendX = [39, 170, 299, 433, 563, 703];
const leg = document.getElementById('legend');
catNames.forEach((name, i) => {
  const x0 = legendX[i] - 8, cy = 19;
  const kinds = i < NOS ? ['s','f','o'] : ['s','o'];
  const step = i < NOS ? 16 : 15;
  kinds.forEach((k, j) => {
    const d = document.createElement('div'); d.className = 'mk';
    const sz = k === 's' ? 4 : 10;
    d.style.width = d.style.height = sz + 'px';
    d.style.left = (x0 + j*step) + 'px'; d.style.top = cy + 'px';
    if (k === 'o'){ d.style.border = '1.5px solid ' + catColors[i]; d.style.background = '#fff'; }
    else d.style.background = catColors[i];
    leg.appendChild(d);
  });
  const t = document.createElement('div'); t.className = 'lt';
  t.textContent = name; t.style.color = catColors[i];
  t.style.left = (x0 + (i < NOS ? 43 : 36)) + 'px'; t.style.top = cy + 'px';
  leg.appendChild(t);
});
</script>
</body></html>
